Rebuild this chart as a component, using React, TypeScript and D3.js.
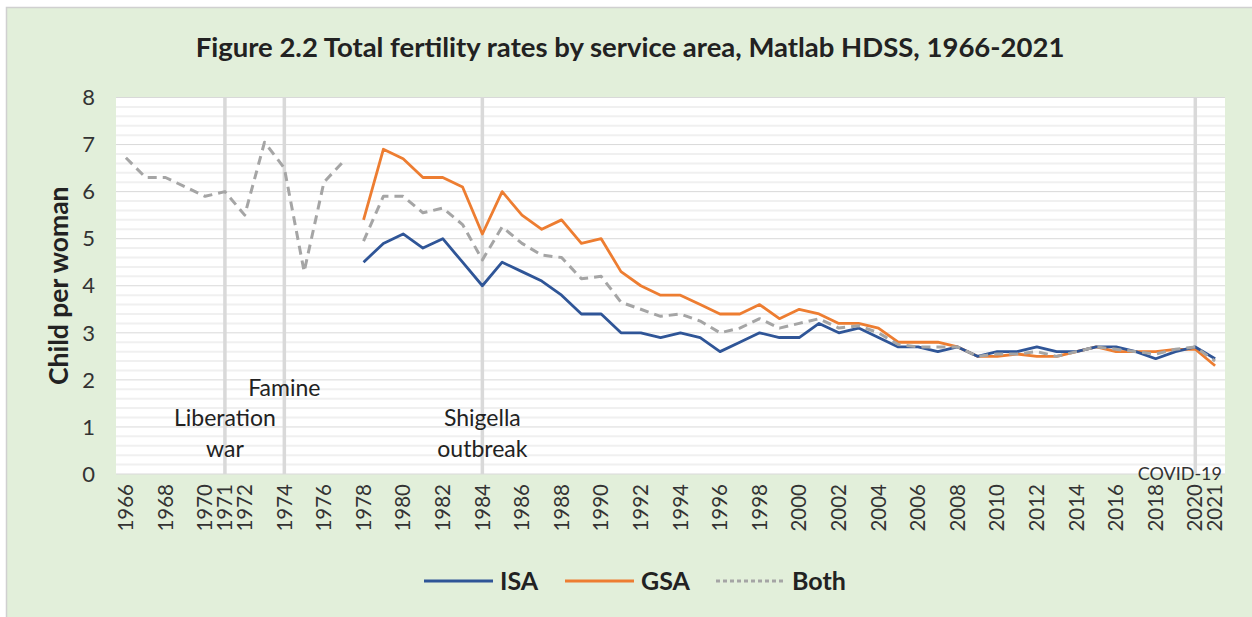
import * as d3 from 'd3'

const years = d3.range(1966, 2022)
const tickYears = [...d3.range(1966, 2022, 2), 1971, 2021]

// 1966–1977 period (single series, no area split)
const bothEarly = [6.72, 6.3, 6.3, 6.1, 5.9, 6.0, 5.5, 7.05, 6.5, 4.3, 6.2, 6.65]
// from 1978 on
const laterYears = d3.range(1978, 2022)
const isa = [
  4.5, 4.9, 5.1, 4.8, 5.0, 4.5, 4.0, 4.5, 4.3, 4.1, 3.8, 3.4, 3.4, 3.0, 3.0, 2.9, 3.0, 2.9, 2.6, 2.8, 3.0,
  2.9, 2.9, 3.2, 3.0, 3.1, 2.9, 2.7, 2.7, 2.6, 2.7, 2.5, 2.6, 2.6, 2.7, 2.6, 2.6, 2.7, 2.7, 2.6, 2.45, 2.6,
  2.7, 2.45,
]
const gsa = [
  5.4, 6.9, 6.7, 6.3, 6.3, 6.1, 5.1, 6.0, 5.5, 5.2, 5.4, 4.9, 5.0, 4.3, 4.0, 3.8, 3.8, 3.6, 3.4, 3.4, 3.6,
  3.3, 3.5, 3.4, 3.2, 3.2, 3.1, 2.8, 2.8, 2.8, 2.7, 2.5, 2.5, 2.55, 2.5, 2.5, 2.6, 2.7, 2.6, 2.6, 2.6, 2.65,
  2.65, 2.3,
]
const bothLater = [
  4.95, 5.9, 5.9, 5.55, 5.65, 5.3, 4.55, 5.25, 4.9, 4.65, 4.6, 4.15, 4.2, 3.65, 3.5, 3.35, 3.4, 3.25, 3.0,
  3.1, 3.3, 3.1, 3.2, 3.3, 3.1, 3.15, 3.0, 2.75, 2.7, 2.7, 2.7, 2.5, 2.55, 2.55, 2.6, 2.5, 2.6, 2.7, 2.65,
  2.6, 2.55, 2.65, 2.7, 2.4,
]

const events = [
  { year: 1971, lines: ['Liberation', 'war'], y: 418 },
  { year: 1974, lines: ['Famine'], y: 388 },
  { year: 1984, lines: ['Shigella', 'outbreak'], y: 418 },
]

const W = 1252
const H = 617
const FONT = "'Source Sans Pro', Lato, 'Noto Sans', sans-serif"
const margin = { left: 116, right: 1225, top: 97.5, bottom: 474 }

type Pt = { year: number; v: number }

export default function App() {
  const x = d3.scaleBand<number>().domain(years).range([margin.left, margin.right]).padding(0)
  const cx = (yr: number) => (x(yr) ?? 0) + x.bandwidth() / 2
  const y = d3.scaleLinear().domain([0, 8]).range([margin.bottom, margin.top])

  const line = d3
    .line<Pt>()
    .x((d) => cx(d.year))
    .y((d) => y(d.v))

  const early: Pt[] = bothEarly.map((v, i) => ({ year: 1966 + i, v }))
  const toPts = (arr: number[]) => arr.map((v, i) => ({ year: laterYears[i], v }))

  const minor = d3.range(0, 8.01, 0.2).filter((v) => Math.abs(v - Math.round(v)) > 0.01)
  const major = d3.range(0, 9)

  const series = [
    { name: 'ISA', color: '#2f5597', dash: undefined as string | undefined, pts: [toPts(isa)] },
    { name: 'GSA', color: '#ed7d31', dash: undefined as string | undefined, pts: [toPts(gsa)] },
    { name: 'Both', color: '#a5a5a5', dash: '9 6', pts: [early, toPts(bothLater)] },
  ]
  const drawOrder = [series[1], series[0], series[2]]
  const legendX = [424, 565, 716]

  return (
    <svg
      width={W}
      height={H}
      style={{ position: 'absolute', left: 0, top: 0, fontFamily: FONT }}
    >
      <rect x={0} y={0} width={W} height={H} fill="#ffffff" />
      <rect x={6.5} y={7.5} width={W} height={H} fill="#e2efda" stroke="#d0d0d0" strokeWidth={1.5} />
      <text x={630} y={57} textAnchor="middle" fontSize={27.5} fontWeight={700} fill="#222">
        Figure 2.2 Total fertility rates by service area, Matlab HDSS, 1966-2021
      </text>

      <rect
        x={margin.left}
        y={margin.top}
        width={margin.right - margin.left}
        height={margin.bottom - margin.top}
        fill="#ffffff"
      />
      {minor.map((v) => (
        <line key={'mn' + v} x1={margin.left} x2={margin.right} y1={y(v)} y2={y(v)} stroke="#f0f0f0" strokeWidth={2} />
      ))}
      {major.map((v) => (
        <line key={'mj' + v} x1={margin.left} x2={margin.right} y1={y(v)} y2={y(v)} stroke="#d9d9d9" strokeWidth={1} />
      ))}
      {[1971, 1974, 1984, 2020].map((yr) => (
        <line key={'ev' + yr} x1={cx(yr)} x2={cx(yr)} y1={margin.top} y2={margin.bottom} stroke="#d9d9d9" strokeWidth={3.5} />
      ))}

      {major.map((v) => (
        <text key={'yt' + v} x={95} y={y(v)} dy="0.35em" textAnchor="end" fontSize={22} fill="#333">
          {v}
        </text>
      ))}
      <text
        transform={`translate(68,${(margin.top + margin.bottom) / 2}) rotate(-90)`}
        textAnchor="middle"
        fontSize={26.5}
        fontWeight={700}
        fill="#222"
      >
        Child per woman
      </text>

      {tickYears.map((yr) => (
        <text
          key={'xt' + yr}
          transform={`translate(${cx(yr)},${484}) rotate(-90)`}
          dy="0.35em"
          textAnchor="end"
          fontSize={20.5}
          fill="#333"
        >
          {yr}
        </text>
      ))}

      {events.map((e) =>
        e.lines.map((t, i) => (
          <text key={e.year + t} x={cx(e.year)} y={e.y + i * 31} dy="0.35em" textAnchor="middle" fontSize={23} fill="#222">
            {t}
          </text>
        )),
      )}
      <text x={1222} y={474} dy="0.35em" textAnchor="end" fontSize={18} fill="#333">
        COVID-19
      </text>

      {drawOrder.map((s) =>
        s.pts.map((p, i) => (
          <path
            key={s.name + i}
            d={line(p) ?? ''}
            fill="none"
            stroke={s.color}
            strokeWidth={s.dash ? 3 : 2.8}
            strokeDasharray={s.dash}
            strokeLinejoin="round"
          />
        )),
      )}

      {series.map((s, i) => {
        const lx = legendX[i]
        return (
          <g key={'lg' + s.name}>
            <line x1={lx} x2={lx + 69} y1={581} y2={581} stroke={s.color} strokeWidth={2.8} strokeDasharray={s.dash ? '4 3' : undefined} />
            <text x={lx + 76} y={581} dy="0.35em" fontSize={25} fontWeight={700} fill="#222">
              {s.name}
            </text>
          </g>
        )
      })}
    </svg>
  )
}
